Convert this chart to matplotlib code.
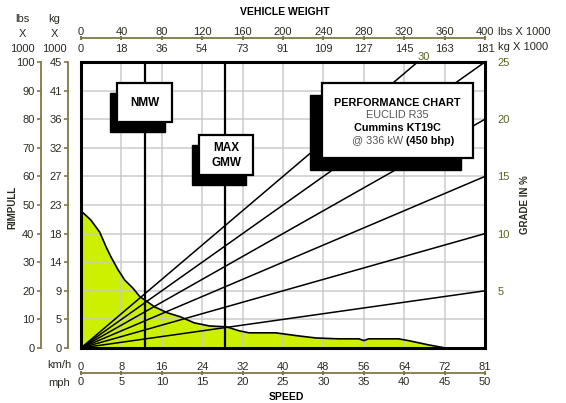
import matplotlib
matplotlib.use("Agg")
import matplotlib.pyplot as plt
import numpy as np
from matplotlib.patches import Rectangle

plt.rcParams['font.family'] = ['Liberation Sans', 'DejaVu Sans']

# ---------------- data ----------------
speed_mph = [0, 0.25, 1.2, 2.3, 3.1, 3.7, 4.6, 5.4, 6.4, 7.3, 7.9, 9.1, 10.7, 12.3, 14.0,
             15.9, 18.0, 19.6, 20.8, 24.1, 27.0, 29.1, 31.9, 34.4, 35.0, 35.6, 39.3, 40.5,
             43.0, 45.1]
rimpull_klbs = [47.3, 47.3, 44.8, 40.6, 35.4, 31.9, 27.3, 23.8, 21.0, 17.9, 16.8, 14.4, 12.3,
                10.9, 8.8, 7.7, 7.4, 6.0, 5.3, 5.3, 4.2, 3.5, 3.2, 3.2, 2.6, 3.2, 3.2, 2.6,
                1.1, 0.0]
grades = [5, 10, 15, 20, 25, 30]
nmw_klbs = 63
gmw_klbs = 143

rim_lbs_ticks = [0, 10, 20, 30, 40, 50, 60, 70, 80, 90, 100]
rim_kg_labels = ["0", "5", "9", "14", "18", "23", "27", "32", "36", "41", "45"]
weight_lbs_ticks = [0, 40, 80, 120, 160, 200, 240, 280, 320, 360, 400]
weight_kg_labels = ["0", "18", "36", "54", "73", "91", "109", "127", "145", "163", "181"]
speed_mph_ticks = [0, 5, 10, 15, 20, 25, 30, 35, 40, 45, 50]
speed_kmh_labels = ["0", "8", "16", "24", "32", "40", "48", "56", "64", "72", "81"]
grade_ticks = [5, 10, 15, 20, 25]

# ---------------- layout ----------------
W, H = 566, 403
fig = plt.figure(figsize=(W / 100, H / 100), dpi=100)
fig.patch.set_facecolor("white")

def fx(px):
    return px / W

def fy(py):
    return 1 - py / H

L, R, T, B = 81, 485, 62, 348
ax = fig.add_axes([fx(L), fy(B), fx(R - L), (B - T) / H])

OLIVE = "#7f7a45"
TXT = "#2b2b22"
GRADE_C = "#5d6420"
FILL = "#ccf000"

ax.set_xlim(0, 50)
ax.set_ylim(0, 100)
ax.set_xticks(speed_mph_ticks)
ax.set_yticks(rim_lbs_ticks)
ax.tick_params(length=0, labelbottom=False, labelleft=False)
ax.grid(True, color="#c8c8c8", lw=1.3, alpha=0.8, zorder=2.5)
ax.set_axisbelow(False)
for s in ax.spines.values():
    s.set_linewidth(2.2)
    s.set_color("black")
    s.set_zorder(10)

ax.fill_between(speed_mph, rimpull_klbs, 0, color=FILL, lw=0, zorder=1)
ax.plot(speed_mph, rimpull_klbs, color="black", lw=1.2, zorder=3)

# weight axis (grade lines, NMW / GMW)
axw = ax.twiny()
axw.set_xlim(0, 400)
axw.set_ylim(0, 100)
axw.tick_params(length=0, labeltop=False, labelbottom=False)
for s in axw.spines.values():
    s.set_visible(False)
for g in grades:
    wmax = min(400, 100 / (g / 100))
    wv = np.array([0, wmax])
    axw.plot(wv, wv * g / 100, color="black", lw=1.1, zorder=3, solid_capstyle="butt")
axw.axvline(nmw_klbs, color="black", lw=1.6, zorder=3)
axw.axvline(gmw_klbs, color="black", lw=1.6, zorder=3)
axw.annotate("30", xy=(100 / 0.30, 100), xytext=(0, 0), textcoords="offset points",
             ha="left", va="bottom", fontsize=8, color=GRADE_C, annotation_clip=False)

# grade axis on the right
axg = ax.twinx()
axg.set_ylim(0, 25)
axg.set_yticks(grade_ticks)
axg.set_yticklabels([str(g) for g in grade_ticks], fontsize=8, color=GRADE_C)
axg.tick_params(axis="y", length=0, pad=9)
axg.tick_params(axis="x", length=0)
for s in axg.spines.values():
    s.set_visible(False)
axg.set_ylabel("GRADE IN %", fontsize=7, fontweight="bold", color=TXT, labelpad=7)

# boxes
def box(x0, y0, x1, y1, sdx, sdy):
    # pixel coords -> axes fraction
    ax0 = (x0 - L) / (R - L); ax1 = (x1 - L) / (R - L)
    ay0 = (B - y1) / (B - T); ay1 = (B - y0) / (B - T)
    dx = sdx / (R - L); dy = -sdy / (B - T)
    axw.add_patch(Rectangle((ax0 + dx, ay0 + dy), ax1 - ax0, ay1 - ay0, transform=axw.transAxes,
                            facecolor="black", edgecolor="black", zorder=20, clip_on=False))
    axw.add_patch(Rectangle((ax0, ay0), ax1 - ax0, ay1 - ay0, transform=axw.transAxes,
                            facecolor="white", edgecolor="black", lw=1.6, zorder=21, clip_on=False))

def atext(px, py, s, ha="center", **kw):
    axw.text((px - L) / (R - L), (B - py) / (B - T), s, transform=axw.transAxes,
             ha=ha, va="center", zorder=22, **kw)

box(117, 83, 172, 122, -7, 10)
atext(144.5, 103, "NMW", fontsize=8.5, fontweight="bold", color="black")
box(199, 135, 253, 175, -7, 10)
atext(226, 148, "MAX", fontsize=8.5, fontweight="bold", color="black")
atext(226, 163, "GMW", fontsize=8.5, fontweight="bold", color="black")
box(322, 83, 473, 158, -12, 12)
atext(397.5, 103, "PERFORMANCE CHART", fontsize=7.8, fontweight="bold", color="black")
atext(397.5, 115.5, "EUCLID R35", fontsize=7.8, color="#555555")
atext(397.5, 128, "Cummins KT19C", fontsize=7.8, fontweight="bold", color="black")
atext(403, 140.5, "@ 336 kW", ha="right", fontsize=7.8, color="#555555")
atext(406, 140.5, "(450 bhp)", ha="left", fontsize=7.8, fontweight="bold", color="black")

# ---------------- outer scales ----------------
def vscale(xpx, labels):
    a = fig.add_axes([fx(xpx), fy(B), 0.0001, (B - T) / H])
    a.patch.set_visible(False)
    for k, s in a.spines.items():
        s.set_visible(k == "left")
    a.spines["left"].set_color(OLIVE)
    a.spines["left"].set_linewidth(1.3)
    a.set_ylim(0, 100)
    a.set_yticks(rim_lbs_ticks)
    a.set_yticklabels(labels, fontsize=8, color=TXT)
    a.tick_params(axis="y", direction="out", length=3, width=1.2, color=OLIVE, pad=1.5)
    a.set_xticks([])
    return a

vscale(40.7, [str(v) for v in rim_lbs_ticks])
vscale(68, rim_kg_labels)

def hscale(ypx, ticks, lim, top_labels, bottom_labels, pad_top, pad_bot):
    a = fig.add_axes([fx(L), fy(ypx), fx(R - L), 0.0001])
    a.patch.set_visible(False)
    for k, s in a.spines.items():
        s.set_visible(k == "bottom")
    a.spines["bottom"].set_color(OLIVE)
    a.spines["bottom"].set_linewidth(1.3)
    a.set_xlim(*lim)
    a.set_xticks(ticks)
    a.set_xticklabels(bottom_labels, fontsize=8, color=TXT)
    a.tick_params(axis="x", direction="inout", length=3, width=1.5, color=OLIVE, pad=pad_bot)
    a.set_yticks([])
    b = fig.add_axes([fx(L), fy(ypx), fx(R - L), 0.0001])
    b.patch.set_visible(False)
    for s in b.spines.values():
        s.set_visible(False)
    b.set_xlim(*lim)
    b.set_xticks(ticks)
    b.set_xticklabels(top_labels, fontsize=8, color=TXT)
    b.tick_params(axis="x", length=0, labeltop=True, labelbottom=False, top=False, bottom=False,
                  pad=pad_top)
    b.set_yticks([])

hscale(38, weight_lbs_ticks, (0, 400), [str(v) for v in weight_lbs_ticks], weight_kg_labels, 1.0, 2.5)
hscale(373, speed_mph_ticks, (0, 50), speed_kmh_labels, [str(v) for v in speed_mph_ticks], 1.0, 1.5)

# titles and unit captions
fig.text(fx(285), fy(12), "VEHICLE WEIGHT", fontsize=7.5, fontweight="bold", color="black",
         ha="center", va="center")
fig.text(fx(286), fy(397), "SPEED", fontsize=7.5, fontweight="bold", color="black",
         ha="center", va="center")
fig.text(fx(12), fy(207), "RIMPULL", fontsize=7, fontweight="bold", color=TXT,
         ha="center", va="center", rotation=90)
fig.text(fx(498), fy(32), "lbs X 1000", fontsize=8, color=TXT, ha="left", va="center")
fig.text(fx(498), fy(47), "kg X 1000", fontsize=8, color=TXT, ha="left", va="center")
for i, s in enumerate(["lbs", "X", "1000"]):
    fig.text(fx(22), fy(19 + 15 * i), s, fontsize=8, color=TXT, ha="center", va="center")
for i, s in enumerate(["kg", "X", "1000"]):
    fig.text(fx(54), fy(19 + 15 * i), s, fontsize=8, color=TXT, ha="center", va="center")
fig.text(fx(72), fy(365), "km/h", fontsize=8, color=TXT, ha="right", va="center")
fig.text(fx(70), fy(383), "mph", fontsize=8, color=TXT, ha="right", va="center")

fig.savefig("out.png", dpi=100, facecolor="white")
